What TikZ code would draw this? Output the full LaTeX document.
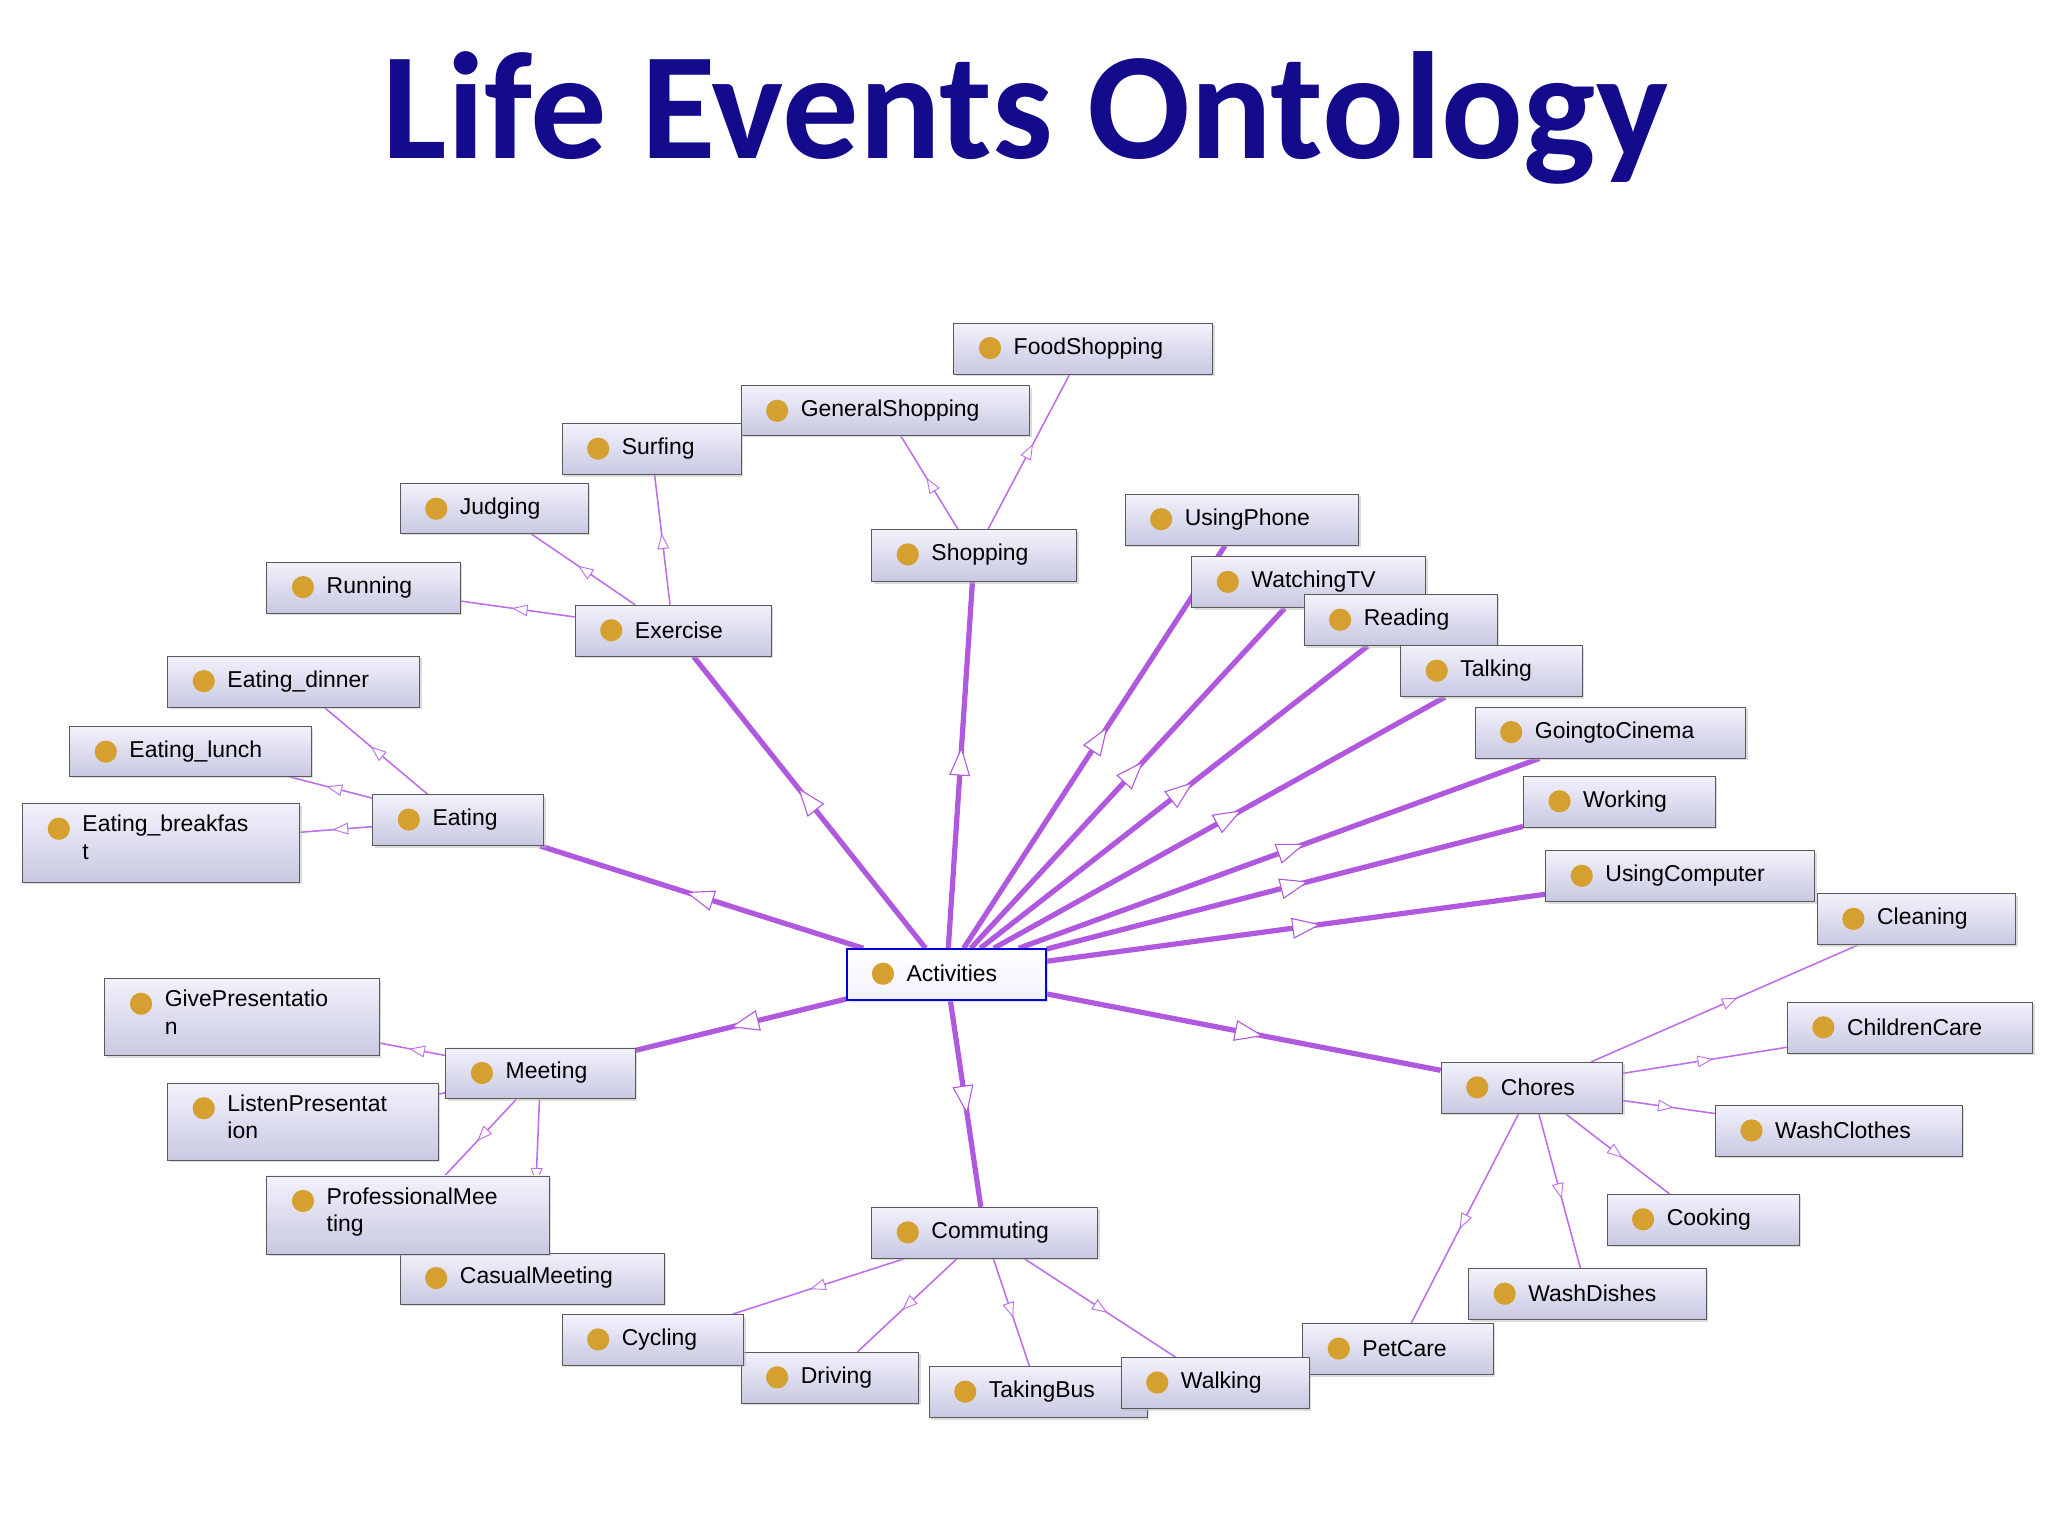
\documentclass[tikz,border=0pt]{standalone}
\usepackage{fontspec}
\setmainfont{Liberation Sans}
\newfontfamily\titlefont{Carlito}
\usetikzlibrary{arrows.meta,decorations.markings,shadows}
\pgfdeclarelayer{bg}
\pgfsetlayers{bg,main}
\definecolor{edgec}{RGB}{176,88,222}
\definecolor{thinc}{RGB}{190,110,232}
\definecolor{dotc}{RGB}{214,160,48}
\definecolor{titlec}{RGB}{20,10,140}
\definecolor{boxtop}{RGB}{242,242,252}
\definecolor{boxbot}{RGB}{200,200,226}
\tikzset{
  box/.style={draw=gray!70!black, line width=1pt, top color=boxtop, bottom color=boxbot, anchor=north west, inner sep=0pt, drop shadow={shadow xshift=0.8mm, shadow yshift=-0.8mm, fill=gray!55}},
  lbl/.style={font=\fontsize{25}{30}\selectfont, inner sep=0pt, align=left},
  thick edge/.style={draw=edgec, line width=2mm, postaction={decorate}, decoration={markings, mark=at position 0.55 with {\arrow{Triangle[length=11mm,width=8mm,fill=white,line width=1.2pt]}}}},
  thin edge/.style={draw=thinc, line width=0.6mm, postaction={decorate}, decoration={markings, mark=at position 0.55 with {\arrow{Triangle[length=6mm,width=4.5mm,fill=white,line width=1pt]}}}},
}
\newcommand{\bx}[6]{%
  \node[box, minimum width={(#4-#2)*0.5mm}, minimum height={(#5-#3)*0.5mm}] (#1) at (#2,#3) {};
  \fill[dotc] (#2+28,#3+19.5) circle (8.5);
  \node[lbl, anchor=west] at (#2+46,#3+19.5) {#6};}
\newcommand{\bxx}[6]{%
  \node[box, minimum width={(#4-#2)*0.5mm}, minimum height={(#5-#3)*0.5mm}] (#1) at (#2,#3) {};
  \fill[dotc] (#2+28,#3+19.5) circle (8.5);
  \node[lbl, anchor=north west] at (#2+46,#3+9) {#6};}
\begin{document}
\begin{tikzpicture}[x=0.05cm,y=-0.05cm]
\useasboundingbox (0,0) rectangle (1568,1176);
\node[font=\titlefont\bfseries\fontsize{166}{170}\selectfont, text=titlec] at (785,90) {Life Events Ontology};
\bx{FoodShopping}{730}{247}{928}{286}{FoodShopping}
\bx{GeneralShopping}{567}{295}{788}{333}{GeneralShopping}
\bx{Surfing}{430}{324}{567}{363}{Surfing}
\bx{Judging}{306}{370}{450}{408}{Judging}
\bx{Shopping}{667}{405}{824}{445}{Shopping}
\bx{Running}{204}{430}{352}{469}{Running}
\bx{Exercise}{440}{463}{590}{502}{Exercise}
\bx{UsingPhone}{861}{378}{1040}{417}{UsingPhone}
\bx{WatchingTV}{912}{426}{1091}{465}{WatchingTV}
\bx{Reading}{998}{455}{1146}{494}{Reading}
\bx{Talking}{1072}{494}{1211}{533}{Talking}
\bx{GoingtoCinema}{1129}{541}{1336}{580}{GoingtoCinema}
\bx{Working}{1166}{594}{1313}{633}{Working}
\bx{UsingComputer}{1183}{651}{1389}{690}{UsingComputer}
\bx{Cleaning}{1391}{684}{1543}{723}{Cleaning}
\bx{ChildrenCare}{1368}{767}{1556}{806}{ChildrenCare}
\bx{WashClothes}{1313}{846}{1502}{885}{WashClothes}
\bx{Cooking}{1230}{914}{1377}{953}{Cooking}
\bx{WashDishes}{1124}{971}{1306}{1010}{WashDishes}
\bx{PetCare}{997}{1013}{1143}{1052}{PetCare}
\bx{TakingBus}{711}{1046}{878}{1085}{TakingBus}
\bx{Walking}{858}{1039}{1002}{1078}{Walking}
\bx{Driving}{567}{1035}{703}{1074}{Driving}
\bx{Cycling}{430}{1006}{569}{1045}{Cycling}
\bx{Commuting}{667}{924}{840}{963}{Commuting}
\bx{CasualMeeting}{306}{959}{508}{998}{CasualMeeting}
\bxx{ProfessionalMeeting}{204}{900}{420}{960}{ProfessionalMee\\ting}
\bxx{ListenPresentation}{128}{829}{335}{888}{ListenPresentat\\ion}
\bxx{GivePresentation}{80}{749}{290}{808}{GivePresentatio\\n}
\bx{Meeting}{341}{802}{486}{841}{Meeting}
\bx{Chores}{1103}{813}{1242}{852}{Chores}
\bx{Eating}{285}{608}{416}{647}{Eating}
\bxx{Eatingbreakfast}{17}{615}{229}{675}{Eating\_breakfas\\t}
\bx{Eatinglunch}{53}{556}{238}{594}{Eating\_lunch}
\bx{Eatingdinner}{128}{502}{321}{541}{Eating\_dinner}
\node[box, draw=blue!85!black, line width=2pt, top color=white, bottom color=boxtop, minimum width={152*0.5mm}, minimum height={39*0.5mm}] (Activities) at (648,726) {};
\fill[dotc] (676,745.5) circle (8.5);
\node[lbl, anchor=west] at (694,745.5) {Activities};
% edges
\begin{pgfonlayer}{bg}
\foreach \c in {Exercise,Shopping,UsingPhone,WatchingTV,Reading,Talking,GoingtoCinema,Working,UsingComputer,Chores,Commuting,Meeting,Eating}
  \path[thick edge] (Activities) -- (\c);
\foreach \p/\c in {Shopping/GeneralShopping,Shopping/FoodShopping,Exercise/Surfing,Exercise/Judging,Exercise/Running,Eating/Eatingdinner,Eating/Eatinglunch,Eating/Eatingbreakfast,Meeting/GivePresentation,Meeting/ListenPresentation,Meeting/ProfessionalMeeting,Meeting/CasualMeeting,Commuting/Cycling,Commuting/Driving,Commuting/TakingBus,Commuting/Walking,Chores/Cleaning,Chores/ChildrenCare,Chores/WashClothes,Chores/Cooking,Chores/WashDishes,Chores/PetCare}
  \path[thin edge] (\p) -- (\c);
\end{pgfonlayer}
\end{tikzpicture}
\end{document}
